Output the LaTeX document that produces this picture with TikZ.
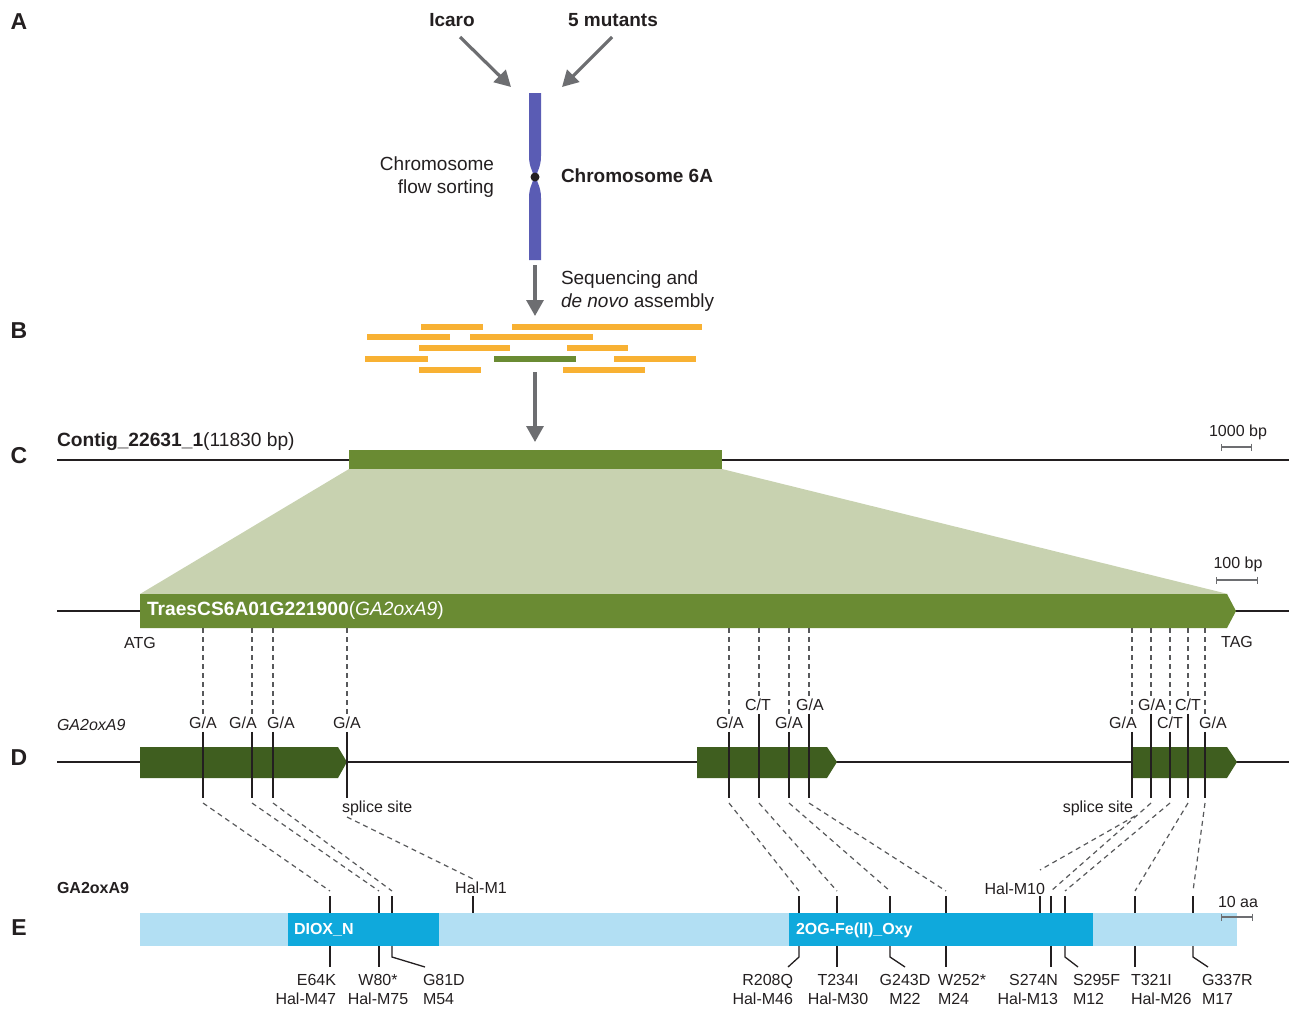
\documentclass[tikz,border=0pt]{standalone}
\usepackage{fontspec}
\setmainfont{Liberation Sans}
\usetikzlibrary{arrows.meta}
\definecolor{arrowgray}{HTML}{6D6E71}
\definecolor{chromblue}{HTML}{5A5CB4}
\definecolor{readorange}{HTML}{F8B133}
\definecolor{genegreen}{HTML}{6A8B33}
\definecolor{exongreen}{HTML}{3F5E1F}
\definecolor{trapgreen}{HTML}{C8D2B0}
\definecolor{lightblue}{HTML}{B2DFF3}
\definecolor{domainblue}{HTML}{0FA9DC}
\definecolor{ink}{HTML}{231F20}
\definecolor{dashgray}{HTML}{58595B}
\definecolor{scalegray}{HTML}{6D6E71}
\newcommand\mGA{G/A}
\newcommand\mCT{C/T}
\begin{document}
\begin{tikzpicture}[x=1pt,y=-1pt,
 every node/.style={inner sep=0pt, outer sep=0pt, text=ink},
 small/.style={font=\fontsize{16}{19}\selectfont},
 smallb/.style={font=\fontsize{16}{19}\selectfont\bfseries},
 mid/.style={font=\fontsize{19.2}{22}\selectfont},
 big/.style={font=\fontsize{19}{23}\selectfont},
 bigb/.style={font=\fontsize{19}{23}\selectfont\bfseries},
 panel/.style={font=\fontsize{23}{27}\selectfont\bfseries},
 flow/.style={draw=arrowgray, line width=3.2pt, -{Triangle[length=16pt,width=17pt]}},
 mainline/.style={draw=ink, line width=2.6pt},
 tickline/.style={draw=ink, line width=1.3pt},
 dashline/.style={draw=dashgray, line width=1.2pt, dash pattern=on 5pt off 4pt},
 read/.style={draw=readorange, line width=6pt},
 scalebar/.style={draw=scalegray, line width=1.3pt, {Bar[width=7pt]}-{Bar[width=7pt]}},
 mutlab/.style={small, outer sep=3pt},
]
\useasboundingbox (0,0) rectangle (1289,1010);

% panel letters
\node[panel] (pA) at (19,22) {A};
\node[panel] (pB) at (19,331) {B};
\node[panel] (pC) at (19,456) {C};
\node[panel] (pD) at (19,758) {D};
\node[panel] (pE) at (19,928) {E};

% ---------- A ----------
\node[bigb] (icaro) at (452,20) {Icaro};
\node[bigb] (mut) at (613,20) {5 mutants};
\coordinate (icaroA) at (460,37);
\coordinate (chrL) at (511,87);
\coordinate (mutA) at (612,37);
\coordinate (chrR) at (562,87);
\draw[flow] (icaroA) -- (chrL);
\draw[flow] (mutA) -- (chrR);

\fill[chromblue] (529,93) -- (541,93) -- (541,156) .. controls (541,168) and (536.5,171) .. (536.5,177) -- (533.5,177) .. controls (533.5,171) and (529,168) .. (529,156) -- cycle;
\fill[chromblue] (529,260) -- (541,260) -- (541,198) .. controls (541,186) and (536.5,183) .. (536.5,177) -- (533.5,177) .. controls (533.5,183) and (529,186) .. (529,198) -- cycle;
\fill[ink] (535,177) circle[radius=4.5pt];

\node[big, align=right, anchor=east] (sort) at (494,177) {Chromosome\\flow sorting};
\node[bigb, anchor=west] (chr6a) at (561,176) {Chromosome 6A};
\node[big, align=left, anchor=west] (seq) at (561,291) {Sequencing and\\\textit{de novo} assembly};
\coordinate (s1) at (535,265);
\coordinate (s2) at (535,316);
\draw[flow] (s1) -- (s2);

% ---------- B ----------
\draw[read] (421,327) -- (483,327);
\draw[read] (512,327) -- (702,327);
\draw[read] (367,337) -- (450,337);
\draw[read] (470,337) -- (593,337);
\draw[read] (419,348) -- (510,348);
\draw[read] (567,348) -- (628,348);
\draw[read] (365,359) -- (428,359);
\draw[read, draw=genegreen] (494,359) -- (576,359);
\draw[read] (614,359) -- (696,359);
\draw[read] (419,370) -- (481,370);
\draw[read] (563,370) -- (645,370);
\coordinate (s3) at (535,372);
\coordinate (s4) at (535,442);
\draw[flow] (s3) -- (s4);

% ---------- C ----------
\draw[mainline] (57,460) -- (1289,460);
\fill[genegreen] (349,450) rectangle (722,469);
\node[mid, anchor=base west] (contig) at (57,446.5) {\textbf{Contig\_22631\_1}(11830 bp)};
\node[small] (sc1) at (1238,432) {1000 bp};
\draw[scalebar] (1221,447) -- (1252,447);

\fill[trapgreen] (349,469) -- (722,469) -- (1228,594) -- (140,594) -- cycle;

\draw[mainline] (57,611) -- (1289,611);
\fill[genegreen] (140,594) -- (1227,594) -- (1236,611) -- (1227,628) -- (140,628) -- cycle;
\node[mid, text=white, anchor=west] (gname) at (147,611) {\textbf{TraesCS6A01G221900}(\textit{GA2oxA9})};
\node[small] (atg) at (140,643) {ATG};
\node[small] (tag) at (1237,642) {TAG};
\node[small] (sc2) at (1238,564) {100 bp};
\draw[scalebar] (1216,580) -- (1258,580);

% ---------- D ----------
\node[small, anchor=west] (dlabel) at (57,725) {\textit{GA2oxA9}};
\draw[mainline] (57,762) -- (1289,762);
\fill[exongreen] (140,747) -- (338,747) -- (347,762) -- (338,778) -- (140,778) -- cycle;
\fill[exongreen] (697,747) -- (827,747) -- (837,762) -- (827,778) -- (697,778) -- cycle;
\fill[exongreen] (1132,747) -- (1227,747) -- (1237,762) -- (1227,778) -- (1132,778) -- cycle;

\foreach \n/\xg/\lab/\xl/\yl in {1/203/\mGA/203/723, 2/252/\mGA/243/723, 3/273/\mGA/281/723, 4/347/\mGA/347/723, 5/729/\mGA/730/723, 6/759/\mCT/758/705, 7/789/\mGA/789/723, 8/809/\mGA/810/705, 9/1132/\mGA/1123/723, 10/1151/\mGA/1152/705, 11/1170/\mCT/1170/723, 12/1188/\mCT/1188/705, 13/1205/\mGA/1213/723}{
  \coordinate (g\n) at (\xg,628);
  \coordinate (d\n) at (\xg,798);
  \node[mutlab] (m\n) at (\xl,\yl) {\lab};
  \draw[dashline] (g\n) -- (g\n |- m\n.north);
  \draw[tickline] (g\n |- m\n.south) -- (d\n);
}
\node[small, anchor=west] (ss1) at (342,808) {splice site};
\node[small, anchor=east] (ss2) at (1133,808) {splice site};

% ---------- E ----------
\node[smallb, anchor=west] (elabel) at (57,888) {GA2oxA9};
\fill[lightblue] (140,913) rectangle (1237,946);
\fill[domainblue] (288,913) rectangle (439,946);
\fill[domainblue] (789,913) rectangle (1093,946);
\node[smallb, text=white, anchor=west] (dom1) at (294,930) {DIOX\_N};
\node[smallb, text=white, anchor=west] (dom2) at (796,930) {2OG-Fe(II)\_Oxy};
\node[small] (sc3) at (1238,902) {10 aa};
\draw[scalebar] (1221,917) -- (1253,917);

\node[small] (halm1) at (481,888) {Hal-M1};
\node[small, anchor=east] (halm10) at (1045,889) {Hal-M10};

\foreach \n/\xe in {1/330,2/379,3/392,4/473,5/799,6/837,7/890,8/946,9/1040,10/1051,11/1065,12/1135,13/1193}{
  \coordinate (et\n) at (\xe,896);
  \coordinate (eb\n) at (\xe,913);
  \coordinate (ec\n) at (\xe,946);
  \draw[tickline] (et\n) -- (eb\n);
}
% dashed D -> E
\foreach \n in {1,2,3,5,6,7,8,10,11,12,13}{
  \draw[dashline] ([yshift=-5pt]d\n) -- ([yshift=5pt]et\n);
}
\coordinate (sp1) at (347,817);
\coordinate (h1) at (473,879);
\draw[dashline] (sp1) -- (h1);
\coordinate (sp2) at (1135,816);
\coordinate (h10) at (1040,870);
\draw[dashline] (sp2) -- (h10);

% ticks below protein
\foreach \n in {1,2,6,8,10,12}{
  \draw[tickline] (ec\n) -- ++(0,21);
}
\draw[tickline] (ec3) -- ++(0,11) -- ++(33,10);
\draw[tickline] (ec5) -- ++(0,11) -- ++(-11,10);
\draw[tickline] (ec7) -- ++(0,11) -- ++(15,10);
\draw[tickline] (ec11) -- ++(0,11) -- ++(13,10);
\draw[tickline] (ec13) -- ++(0,11) -- ++(15,10);

\node[small, align=right, anchor=north east] (l1) at (336,974) {E64K\\Hal-M47};
\node[small, align=center, anchor=north] (l2) at (378,974) {W80*\\Hal-M75};
\node[small, align=left, anchor=north west] (l3) at (423,974) {G81D\\M54};
\node[small, align=right, anchor=north east] (l5) at (793,974) {R208Q\\Hal-M46};
\node[small, align=center, anchor=north] (l6) at (838,974) {T234I\\Hal-M30};
\node[small, align=center, anchor=north] (l7) at (905,974) {G243D\\M22};
\node[small, align=left, anchor=north west] (l8) at (938,974) {W252*\\M24};
\node[small, align=right, anchor=north east] (l10) at (1058,974) {S274N\\Hal-M13};
\node[small, align=left, anchor=north west] (l11) at (1073,974) {S295F\\M12};
\node[small, align=left, anchor=north west] (l12) at (1131,974) {T321I\\Hal-M26};
\node[small, align=left, anchor=north west] (l13) at (1202,974) {G337R\\M17};
\end{tikzpicture}
\end{document}
